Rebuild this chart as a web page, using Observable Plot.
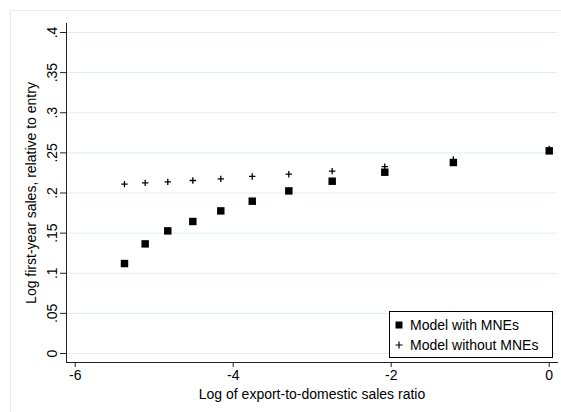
<!DOCTYPE html>
<html><head><meta charset="utf-8">
<script src="https://cdn.jsdelivr.net/npm/d3@7"></script>
<script src="https://cdn.jsdelivr.net/npm/@observablehq/plot@0.6"></script>
<style>
body{margin:0;background:#fff;overflow:hidden;font-family:"Liberation Sans",Arial,sans-serif;}
#wrap{position:relative;width:561px;height:412px;overflow:hidden;}
#frame{position:absolute;left:10px;top:10px;width:600px;height:450px;border:1px solid #e4ebee;box-sizing:border-box;pointer-events:none}
#chart{position:absolute;left:0;top:0;}
#legend{position:absolute;left:389px;top:311px;width:164px;height:47px;border:1px solid #000;background:#fff;box-sizing:border-box;font-size:14px;color:#000;}
.row{position:absolute;left:0;height:18px;line-height:18px;white-space:nowrap;}
.row svg{position:absolute;left:4px;top:4px;}
.row span{position:absolute;left:20px;top:0;}
</style>
</head><body>
<div id="wrap"><div id="frame"></div><div id="chart"></div><div id="legend"></div></div>
<script>
const xVals = [-5.376, -5.114, -4.828, -4.511, -4.157, -3.759, -3.296, -2.747, -2.081, -1.213, 0];
const withMNEs = [0.1121, 0.1366, 0.1528, 0.1645, 0.1777, 0.1898, 0.2026, 0.2147, 0.2259, 0.2380, 0.2525];
const withoutMNEs = [0.2110, 0.2126, 0.2138, 0.2156, 0.2176, 0.2206, 0.2234, 0.2272, 0.2328, 0.2417, 0.2550];
const xTicks = [-6, -4, -2, 0];
const xTickLabels = ["-6", "-4", "-2", "0"];
const yTicks = [0, 0.05, 0.1, 0.15, 0.2, 0.25, 0.3, 0.35, 0.4];
const yTickLabels = ["0", ".05", ".1", ".15", ".2", ".25", ".3", ".35", ".4"];
const seriesNames = ["Model with MNEs", "Model without MNEs"];
const xTitle = "Log of export-to-domestic sales ratio";
const yTitle = "Log first-year sales, relative to entry";

const rowsWith = xVals.map((x, i) => ({x, y: withMNEs[i]}));
const rowsWithout = xVals.map((x, i) => ({x, y: withoutMNEs[i]}));

const plot = Plot.plot({
  width: 561, height: 412,
  marginLeft: 66, marginRight: 4, marginTop: 23, marginBottom: 50,
  style: {fontFamily: "'Liberation Sans', Arial, sans-serif", fontSize: "14px", color: "#000", background: "transparent", overflow: "visible"},
  x: {domain: [-6.11, 0.105]},
  y: {domain: [-0.0112, 0.4112]},
  marks: [
    Plot.gridY(yTicks, {stroke: "#e3ebee", strokeOpacity: 1, strokeWidth: 1}),
    Plot.axisX(xTicks, {tickFormat: d => xTickLabels[xTicks.indexOf(d)], tickSize: 5, tickPadding: 3, label: xTitle, labelAnchor: "center", labelArrow: "none", labelOffset: 36, stroke: "#222"}),
    Plot.axisY(yTicks, {tickFormat: d => yTickLabels[yTicks.indexOf(d)], tickRotate: -90, tickSize: 6, tickPadding: 4, label: yTitle, labelAnchor: "center", labelArrow: "none", labelOffset: 40, stroke: "#222"}),
    Plot.frame({anchor: "left", stroke: "#222"}),
    Plot.frame({anchor: "bottom", stroke: "#222"}),
    Plot.dot(rowsWith, {x: "x", y: "y", symbol: "square", r: 4.2, fill: "#000", stroke: "none"}),
    Plot.dot(rowsWithout, {x: "x", y: "y", symbol: "plus", r: 2.2, stroke: "#000", strokeWidth: 1.3})
  ]
});
document.getElementById("chart").appendChild(plot);

const legend = document.getElementById("legend");
seriesNames.forEach((name, i) => {
  const row = document.createElement("div");
  row.className = "row";
  row.style.top = (4 + i * 20) + "px";
  const sym = i === 0
    ? '<svg width="10" height="10"><rect x="1.5" y="1.5" width="7" height="7" fill="#000"/></svg>'
    : '<svg width="10" height="10"><path d="M1.5,5H8.5M5,1.5V8.5" stroke="#000" stroke-width="1.2"/></svg>';
  row.innerHTML = sym + '<span>' + name + '</span>';
  legend.appendChild(row);
});
</script>
</body></html>
